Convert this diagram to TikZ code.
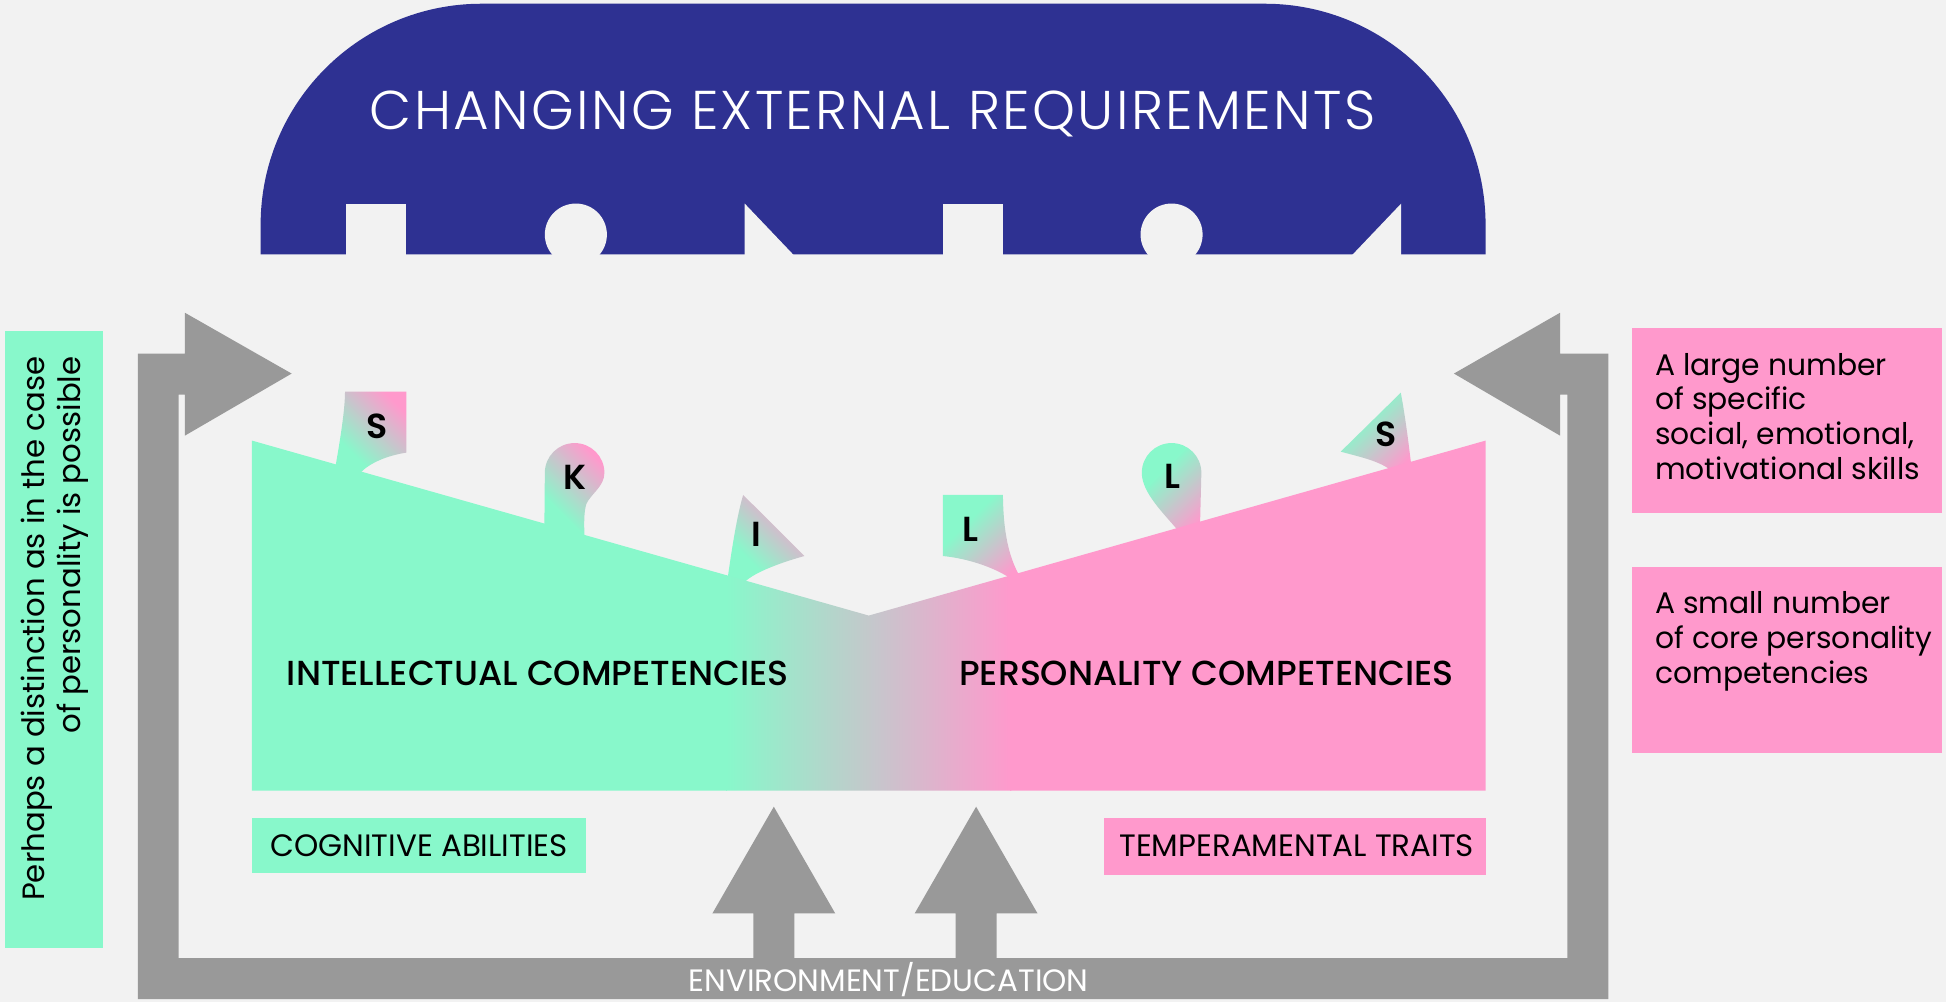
\documentclass[tikz,border=0pt]{standalone}
\usepackage{fontspec}
\setmainfont{Poppins}
\IfFontExistsTF{Poppins Light}{\newfontfamily\popL{Poppins Light}[LetterSpace=4.3]}{\newcommand\popL{\mdseries}}
\IfFontExistsTF{Poppins Medium}{\newfontfamily\popM{Poppins Medium}}{\newcommand\popM{\bfseries}}
\IfFontExistsTF{Poppins SemiBold}{\newfontfamily\popSB{Poppins SemiBold}}{\newcommand\popSB{\bfseries}}
\definecolor{bgC}{HTML}{F2F2F2}
\definecolor{blueC}{HTML}{2E3192}
\definecolor{grayC}{HTML}{999999}
\definecolor{greenC}{HTML}{88F8CB}
\definecolor{pinkC}{HTML}{FF99CC}
\pgfdeclareverticalshading{flagshade}{100bp}{color(0bp)=(greenC); color(36bp)=(greenC); color(76bp)=(pinkC); color(100bp)=(pinkC)}
\tikzset{
  notch/.style={fill=bgC},
  flagL/.style={shading=flagshade, shading angle=-45},
  flagR/.style={shading=flagshade, shading angle=-135},
  flagtxt/.style={anchor=base, inner sep=0pt, font=\popSB\fontsize{28}{30}\selectfont},
  maintxt/.style={anchor=base, inner sep=0pt, font=\popM\fontsize{28}{30}\selectfont},
  boxtxt/.style={anchor=base, inner sep=0pt, font=\fontsize{24.9}{28}\selectfont},
  sidetxt/.style={inner sep=0pt, font=\fontsize{24}{28}\selectfont}
}
\begin{document}
\begin{tikzpicture}[x=1pt,y=-1pt]
\useasboundingbox (0,0) rectangle (1568,807);
\fill[bgC] (0,0) rectangle (1568,807);

% blue top shape
\fill[blueC] (210,205) -- (210,181) .. controls (210,82.7) and (289.7,3) .. (388,3)
  -- (1019,3) .. controls (1117.3,3) and (1197,82.7) .. (1197,181) -- (1197,205) -- cycle;
\fill[notch] (279,164) rectangle (327,206);
\fill[notch] (464,189) circle[radius=25];
\fill[notch] (600,164) -- (640,206) -- (600,206) -- cycle;
\fill[notch] (760,164) rectangle (808,206);
\fill[notch] (944,189) circle[radius=25];
\fill[notch] (1129,164) -- (1129,206) -- (1089,206) -- cycle;
\fill[bgC] (200,205.5) rectangle (1210,225);
\node[anchor=base, inner sep=0pt, text=white, font=\popL\fontsize{44}{46}\selectfont] (title) at (703,104.7) {CHANGING EXTERNAL REQUIREMENTS};

% gray frame with arrows
\fill[grayC] (111,805) -- (111,285) -- (149,285) -- (149,252) -- (235,301) -- (149,351) -- (149,318)
  -- (144,318) -- (144,772) -- (607,772) -- (607,736) -- (574,736) -- (623.5,650) -- (673,736)
  -- (640,736) -- (640,772) -- (770,772) -- (770,736) -- (737,736) -- (786.5,650) -- (836,736)
  -- (803,736) -- (803,772) -- (1263,772) -- (1263,318) -- (1257,318) -- (1257,351)
  -- (1171.5,301) -- (1257,252) -- (1257,285) -- (1296,285) -- (1296,805) -- cycle;
\node[anchor=base, inner sep=0pt, text=white, font=\fontsize{24.9}{26}\selectfont] (env) at (716,799) {ENVIRONMENT/EDUCATION};

% flags (left)
\shade[flagL] (270.5,374.7) .. controls (274,355) and (278,330) .. (278,315.6) -- (327.5,315.6)
  -- (327.5,364.7) .. controls (312,367) and (298,373) .. (290.5,380.8) -- (290.5,392) -- (270.5,392) -- cycle;
\shade[flagL] (438.5,440) -- (439,381) .. controls (439,367.7) and (449.7,357) .. (463,357)
  .. controls (476.3,357) and (487,367.7) .. (487,381) .. controls (487,392) and (476,398) .. (472.5,406)
  .. controls (470.5,412) and (470.5,422) .. (471,432) -- (471,440) -- cycle;
\shade[flagL] (586.5,476) -- (586.5,464.6) .. controls (590,440) and (594,415) .. (598.8,398.8) -- (648.2,448)
  .. controls (630,453) and (608,461) .. (600.4,468.7) -- (600.4,476) -- cycle;
% flags (right)
\shade[flagR] (759.7,448) -- (759.7,398.8) -- (808.1,398.8) .. controls (808.5,430) and (813,448) .. (820.6,462.5)
  -- (820.6,474) -- (813,474) -- (813,465.2) .. controls (800,457) and (780,450) .. (759.7,448) -- cycle;
\shade[flagR] (966.6,436) -- (968,381) .. controls (968,367.7) and (957.3,357) .. (944,357)
  .. controls (930.7,357) and (920,367.7) .. (920,381) .. controls (920,397) and (938,414) .. (948.8,427)
  -- (948.8,436) -- cycle;
\shade[flagR] (1080.3,363.9) -- (1128.7,316.4) .. controls (1133,340) and (1135,358) .. (1136.9,372.8)
  -- (1136.9,385) -- (1119.8,385) -- (1119.8,378.2) .. controls (1110,371) and (1095,368) .. (1080.3,363.9) -- cycle;

% main body
\begin{scope}
\clip (203,637) -- (203,355) -- (700,496) -- (1197,355) -- (1197,637) -- cycle;
\fill[greenC] (200,350) rectangle (586,640);
\shade[left color=greenC, right color=pinkC] (585,350) rectangle (815,640);
\fill[pinkC] (814,350) rectangle (1200,640);
\end{scope}

% flag letters
\node[flagtxt] (fS1) at (303.5,353.2) {S};
\node[flagtxt] (fK) at (463.2,394.8) {K};
\node[flagtxt] (fI) at (609.7,440.5) {I};
\node[flagtxt] (fL1) at (781.7,436.5) {L};
\node[flagtxt] (fL2) at (944.5,393.5) {L};
\node[flagtxt] (fS2) at (1117.2,359.9) {S};

\node[maintxt] (intel) at (433.4,552) {INTELLECTUAL COMPETENCIES};
\node[maintxt] (pers) at (972,552) {PERSONALITY COMPETENCIES};

% lower boxes
\fill[greenC] (203,658.8) rectangle (472.5,703.7);
\node[boxtxt] (cog) at (337.7,690) {COGNITIVE ABILITIES};
\fill[pinkC] (889.5,658.8) rectangle (1197,704.8);
\node[boxtxt] (temp) at (1044.8,690) {TEMPERAMENTAL TRAITS};

% right boxes
\fill[pinkC] (1314.7,264.4) rectangle (1564.5,413);
\node[sidetxt, anchor=base west, align=left] (large) at (1333.5,386.2)
  {A large number\\of specific\\social, emotional,\\motivational skills};
\fill[pinkC] (1314.7,457) rectangle (1564.5,606.5);
\node[sidetxt, anchor=base west, align=left] (small) at (1333.5,550.6)
  {A small number\\of core personality\\competencies};

% left box
\fill[greenC] (4,267) rectangle (82.7,764);
\node[sidetxt, rotate=90, anchor=base east, align=right, font=\fontsize{24.8}{28.5}\selectfont] (perh) at (64.5,287)
  {Perhaps a distinction as in the case\\of personality is possible};
\end{tikzpicture}
\end{document}
